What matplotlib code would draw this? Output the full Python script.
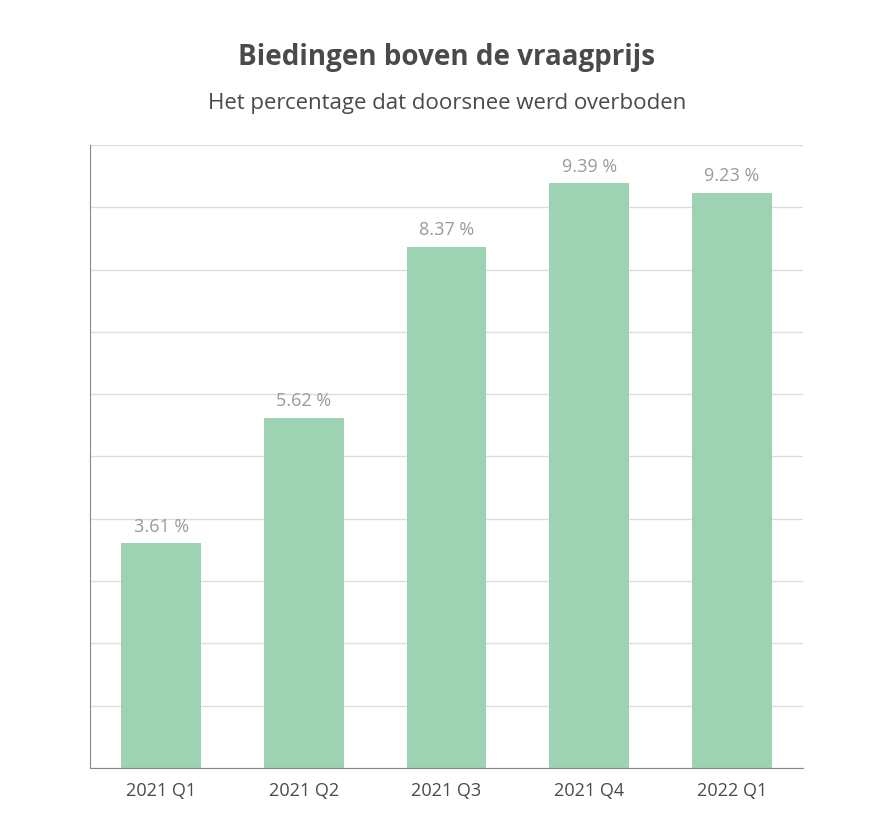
import matplotlib
matplotlib.use("Agg")
import matplotlib.pyplot as plt

# data
quarters = ["2021 Q1", "2021 Q2", "2021 Q3", "2021 Q4", "2022 Q1"]
overbid_pct = [3.61, 5.62, 8.37, 9.39, 9.23]

BAR_COLOR = "#9dd3b2"
TEXT_DARK = "#4a4a4a"
TEXT_GREY = "#9a9a9a"
GRID = "#dddddd"

plt.rcParams["font.family"] = "Open Sans"

fig = plt.figure(figsize=(8.94, 8.30), dpi=100)
ax = fig.add_axes([0.1007, 0.0747, 0.7975, 0.7506])

x = range(len(quarters))
ax.bar(x, overbid_pct, width=0.56, color=BAR_COLOR, zorder=2)
for i, v in enumerate(overbid_pct):
    ax.text(i, v + 0.12, f"{v:.2f} %", ha="center", va="bottom",
            fontsize=13, color=TEXT_GREY)

ax.set_xlim(-0.5, len(quarters) - 0.5)
ax.set_ylim(0, 10)
ax.set_yticks(range(0, 11))
ax.set_yticklabels([])
ax.tick_params(axis="y", length=0)
ax.set_xticks(list(x))
ax.set_xticklabels(quarters, fontsize=13, color=TEXT_DARK)
ax.tick_params(axis="x", length=0, pad=10)
ax.grid(axis="y", color=GRID, linewidth=1, zorder=0)
for s in ["top", "right"]:
    ax.spines[s].set_visible(False)
for s in ["left", "bottom"]:
    ax.spines[s].set_color("#888888")

fig.text(0.5, 1 - 58 / 830, "Biedingen boven de vraagprijs", ha="center", va="center",
         fontsize=20, fontweight="bold", color=TEXT_DARK)
fig.text(0.5, 1 - 103 / 830, "Het percentage dat doorsnee werd overboden", ha="center",
         va="center", fontsize=16, color=TEXT_DARK)

fig.savefig("out.png", dpi=100, facecolor="white")
